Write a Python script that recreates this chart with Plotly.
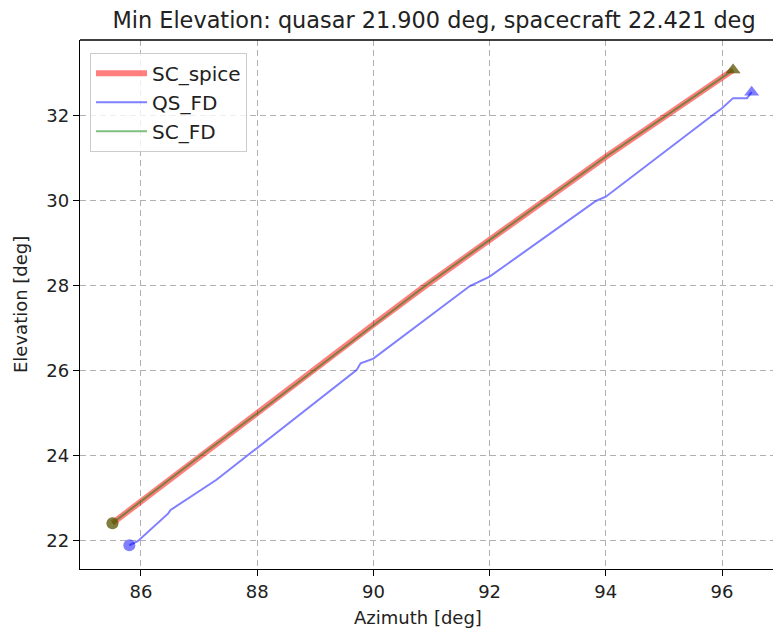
import plotly.graph_objects as go

# ---- data ----
sc_spice_az = [85.51, 87.02, 88.00, 90.00, 90.89, 92.23, 94.00, 96.19]
sc_spice_el = [22.42, 24.00, 25.00, 27.09, 28.00, 29.31, 31.04, 33.08]

sc_fd_az = [85.51, 87.02, 88.00, 90.00, 90.89, 92.23, 94.00, 96.19]
sc_fd_el = [22.42, 24.00, 25.00, 27.09, 28.00, 29.31, 31.04, 33.08]

qs_fd_az = [85.80, 85.95, 86.47, 86.51, 87.30, 87.82, 88.00, 89.71, 89.78, 90.00,
            91.66, 92.00, 93.83, 94.00, 95.82, 96.00, 96.19, 96.43, 96.51]
qs_fd_el = [21.90, 22.00, 22.65, 22.73, 23.44, 24.00, 24.19, 26.02, 26.18, 26.29,
            28.00, 28.22, 30.00, 30.10, 32.00, 32.18, 32.42, 32.42, 32.56]

x_ticks = [86, 88, 90, 92, 94, 96]
y_ticks = [22, 24, 26, 28, 30, 32]

title_text = "Min Elevation: quasar 21.900 deg, spacecraft 22.421 deg"

RED = "rgba(255,0,0,0.5)"
BLUE = "rgba(0,0,255,0.5)"
GREEN = "rgba(0,128,0,0.5)"
FONT = "DejaVu Sans"

# the page body has an 8px margin, so the figure is drawn at (8, 8)
OFF = 8
W, H = 781 - OFF, 630 - OFF

fig = go.Figure()

# lines
fig.add_trace(go.Scatter(x=sc_spice_az, y=sc_spice_el, mode="lines", name="SC_spice",
                         line=dict(color=RED, width=6)))
fig.add_trace(go.Scatter(x=qs_fd_az, y=qs_fd_el, mode="lines", name="QS_FD",
                         line=dict(color=BLUE, width=2)))
fig.add_trace(go.Scatter(x=sc_fd_az, y=sc_fd_el, mode="lines", name="SC_FD",
                         line=dict(color=GREEN, width=2)))

# start (circle) and end (triangle) markers
for az, el, col in [(sc_spice_az, sc_spice_el, RED), (qs_fd_az, qs_fd_el, BLUE),
                    (sc_fd_az, sc_fd_el, GREEN)]:
    fig.add_trace(go.Scatter(x=[az[0]], y=[el[0]], mode="markers", showlegend=False,
                             marker=dict(symbol="circle", size=12, color=col,
                                         line=dict(width=0))))
    fig.add_trace(go.Scatter(x=[az[-1]], y=[el[-1]], mode="markers", showlegend=False,
                             marker=dict(symbol="triangle-up", size=13, color=col,
                                         line=dict(width=0))))

axis_common = dict(
    showgrid=True, gridcolor="#b0b0b0", gridwidth=1, griddash="6px,4px",
    showline=True, linecolor="black", linewidth=1.4,
    ticks="outside", ticklen=6, tickwidth=1.4, tickcolor="black",
    tickfont=dict(family=FONT, size=18, color="#222"),
    zeroline=False,
)

fig.update_layout(
    width=W, height=H,
    margin=dict(l=80 - OFF, r=0, t=40 - OFF, b=61, pad=0),
    paper_bgcolor="white", plot_bgcolor="white",
    font=dict(family=FONT, color="#222"),
    title=dict(text=title_text, x=(434 - OFF) / W, xref="container", xanchor="center",
               y=1 - (20 - OFF) / H, yref="container", yanchor="middle",
               font=dict(family=FONT, size=22.4, color="#222")),
    xaxis=dict(range=[84.951, 97.015], tickvals=x_ticks, **axis_common),
    yaxis=dict(range=[21.341, 33.788], tickvals=y_ticks, **axis_common),
    legend=dict(x=0.0143, y=0.976, xanchor="left", yanchor="top", itemwidth=51,
                bgcolor="rgba(255,255,255,0.8)", bordercolor="#cccccc", borderwidth=1,
                font=dict(family=FONT, size=20, color="#222")),
    shapes=[dict(type="line", xref="paper", yref="paper", x0=0, x1=1, y0=1, y1=1,
                 line=dict(color="black", width=1.4))],
    annotations=[
        dict(text="Azimuth [deg]", xref="paper", yref="paper", x=(418 - 80) / 701,
             y=(569 - 617) / 529, xanchor="center", yanchor="middle", showarrow=False,
             font=dict(family=FONT, size=18, color="#222")),
        dict(text="Elevation [deg]", xref="paper", yref="paper", x=(20 - 80) / 701,
             y=(569 - 305) / 529, xanchor="center", yanchor="middle", showarrow=False,
             textangle=-90, font=dict(family=FONT, size=18, color="#222")),
    ],
)

fig.write_html("out.html")
